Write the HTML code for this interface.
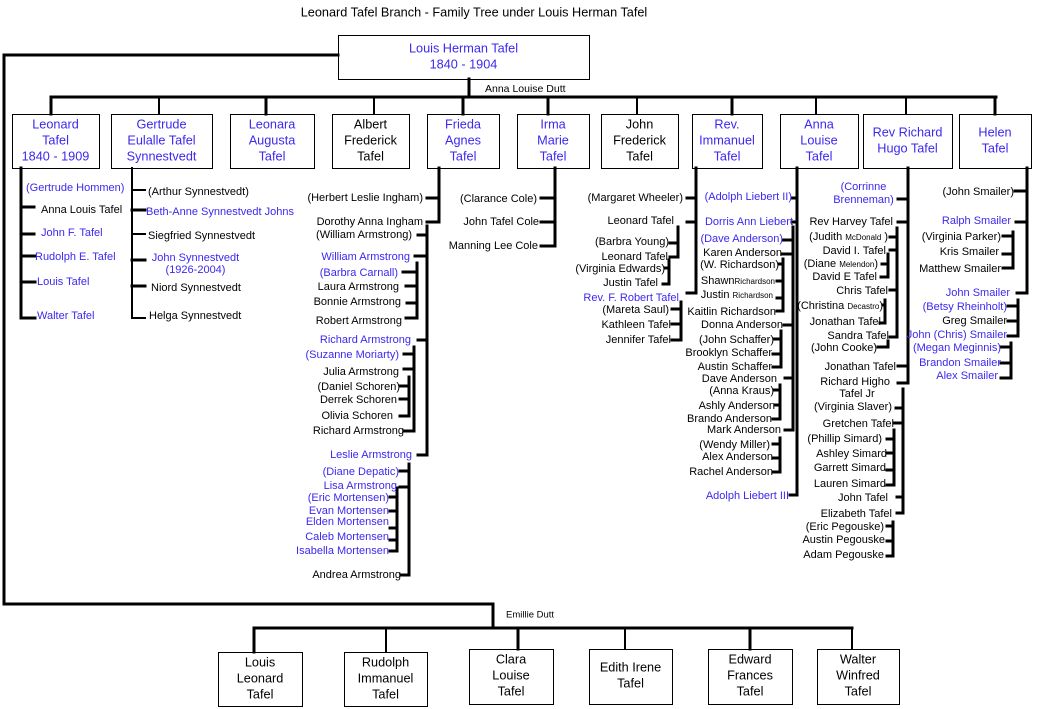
<!DOCTYPE html>
<html>
<head>
<meta charset="utf-8">
<style>
html,body{margin:0;padding:0;background:#fff;}
body{width:1037px;height:709px;overflow:hidden;}
svg{display:block;}
text{font-family:"Liberation Sans",Arial,sans-serif;font-size:11px;fill:#000;}
.e{text-anchor:end;}
.m{text-anchor:middle;}
.b{fill:#3c28f0;}
.bx{font-size:12.7px;text-anchor:middle;}
.sm{font-size:8px;}
</style>
</head>
<body>
<svg width="1037" height="709" viewBox="0 0 1037 709" xmlns="http://www.w3.org/2000/svg">
<!-- boxes -->
<g fill="#fff" stroke="#000" stroke-width="1" shape-rendering="crispEdges">
<rect x="338.5" y="35.5" width="251" height="44"/>
<rect x="12.5" y="114.5" width="87" height="54"/>
<rect x="111.5" y="114.5" width="101" height="54"/>
<rect x="230.5" y="114.5" width="84" height="54"/>
<rect x="332.5" y="114.5" width="77" height="54"/>
<rect x="427.5" y="114.5" width="72" height="54"/>
<rect x="517.5" y="114.5" width="72" height="54"/>
<rect x="601.5" y="114.5" width="77" height="54"/>
<rect x="692.5" y="114.5" width="70" height="54"/>
<rect x="780.5" y="114.5" width="78" height="54"/>
<rect x="863.5" y="114.5" width="89" height="54"/>
<rect x="959.5" y="114.5" width="72" height="54"/>
<rect x="218.5" y="652.5" width="84" height="54"/>
<rect x="344.5" y="652.5" width="83" height="54"/>
<rect x="469.5" y="649.5" width="84" height="55"/>
<rect x="589.5" y="649.5" width="83" height="55"/>
<rect x="708.5" y="649.5" width="84" height="55"/>
<rect x="817.5" y="649.5" width="82" height="55"/>
</g>
<!-- thick lines -->
<path fill="none" stroke="#000" stroke-width="3" stroke-linecap="square" stroke-linejoin="miter" d="
M338,55 H4 V604 H493 V628
M469,79 V97
M51,97 H996
M51,97V114 M266,97V114 M463,97V114 M548,97V114 M732,97V114 M995,97V114
M254,628 H852
M254,628V652 M518,628V649 M750,628V649
M21,168 V318 H35 M21,207H34 M21,234H34 M21,256H35 M21,282H35
M132,210H145 M132,260H145 M132,286H145
M439,168V222H427 M439,198H427
M427,226V455H418 M427,235H418 M427,256H415 M427,340H418
M417,263V318H406 M417,272H403 M417,286H406 M417,303H407
M414,347V431H404 M414,354H404 M414,369H404
M409,377V416H400 M409,386H400 M409,399H400
M409,464V575H401 M409,471H400 M409,487H400
M397,488V551H390 M397,497H390 M397,511H390 M397,528H390 M397,540H390
M555,168V246H541 M555,198H541 M555,222H541
M696,168V293H687 M696,198H687 M696,222H687
M678,227V257H670 M678,243H670
M669,260V284H663 M669,268H665
M681,302V340H672 M681,309H672 M681,324H672
M797,168V495H790 M797,198H792 M797,222H792
M793,227V430H785 M793,240H783 M793,254H782 M793,325H784 M793,378H785
M783,259V311H777 M783,264H779 M783,281H777 M783,298H777
M781,331V367H773 M781,339H774 M781,354H773
M780,385V419H773 M780,390H774 M780,405H775
M780,438V472H773 M780,444H773 M780,458H773
M908,168V383H898 M908,199H898 M908,222H898 M908,366H898
M897,228V337H890 M897,237H890 M897,250H890 M897,290H890
M888,254V277H881 M888,264H882
M885,300V323H880 M885,305H883
M888,341V347H878
M903,389V513H897 M903,408H896 M903,423H894 M903,497H897
M894,430V485H887 M894,439H887 M894,453H887 M894,470H887
M893,522V556H887 M893,526H887 M893,541H887
M1027,168V293H1017 M1027,191H1015 M1027,222H1016
M1013,232V268H1003 M1013,236H1003 M1013,254H1003
M1018,300V336H1008 M1018,306H1008 M1018,321H1008
M1011,343V378H1001 M1011,347H1001 M1011,363H1001
"/>
<!-- thin lines -->
<path fill="none" stroke="#000" stroke-width="2" stroke-linecap="square" d="
M159,97V114 M374,97V114 M637,97V114 M816,97V114 M906,97V114
M386,628V652 M625,628V649 M852,628V649
M132,168V318H145 M132,190H145 M132,234H145
"/>

<!-- title & spouse labels -->
<text class="m" x="474" y="16.5" style="font-size:12.7px">Leonard Tafel Branch - Family Tree under Louis Herman Tafel</text>
<text x="485" y="92" style="font-size:10.5px">Anna Louise Dutt</text>
<text x="506" y="617.5" style="font-size:9.5px">Emillie Dutt</text>

<!-- box texts -->
<text class="bx b" x="463.5" y="52.5">Louis Herman Tafel</text>
<text class="bx b" x="463.5" y="68.5">1840 - 1904</text>

<text class="bx b" x="55.5" y="128.5">Leonard</text>
<text class="bx b" x="55.5" y="144.5">Tafel</text>
<text class="bx b" x="55.5" y="160.5">1840 - 1909</text>

<text class="bx b" x="161.5" y="128.5">Gertrude</text>
<text class="bx b" x="161.5" y="144.5">Eulalle Tafel</text>
<text class="bx b" x="161.5" y="160.5">Synnestvedt</text>

<text class="bx b" x="272" y="128.5">Leonara</text>
<text class="bx b" x="272" y="144.5">Augusta</text>
<text class="bx b" x="272" y="160.5">Tafel</text>

<text class="bx" x="370.5" y="128.5">Albert</text>
<text class="bx" x="370.5" y="144.5">Frederick</text>
<text class="bx" x="370.5" y="160.5">Tafel</text>

<text class="bx b" x="463" y="128.5">Frieda</text>
<text class="bx b" x="463" y="144.5">Agnes</text>
<text class="bx b" x="463" y="160.5">Tafel</text>

<text class="bx b" x="553" y="128.5">Irma</text>
<text class="bx b" x="553" y="144.5">Marie</text>
<text class="bx b" x="553" y="160.5">Tafel</text>

<text class="bx" x="639.5" y="128.5">John</text>
<text class="bx" x="639.5" y="144.5">Frederick</text>
<text class="bx" x="639.5" y="160.5">Tafel</text>

<text class="bx b" x="727" y="128.5">Rev.</text>
<text class="bx b" x="727" y="144.5">Immanuel</text>
<text class="bx b" x="727" y="160.5">Tafel</text>

<text class="bx b" x="819" y="128.5">Anna</text>
<text class="bx b" x="819" y="144.5">Louise</text>
<text class="bx b" x="819" y="160.5">Tafel</text>

<text class="bx b" x="907.5" y="136.5">Rev Richard</text>
<text class="bx b" x="907.5" y="152.5">Hugo Tafel</text>

<text class="bx b" x="995" y="136.5">Helen</text>
<text class="bx b" x="995" y="152.5">Tafel</text>

<text class="bx" x="260" y="666.5">Louis</text>
<text class="bx" x="260" y="682.5">Leonard</text>
<text class="bx" x="260" y="698.5">Tafel</text>

<text class="bx" x="385.5" y="666.5">Rudolph</text>
<text class="bx" x="385.5" y="682.5">Immanuel</text>
<text class="bx" x="385.5" y="698.5">Tafel</text>

<text class="bx" x="511" y="663.5">Clara</text>
<text class="bx" x="511" y="679.5">Louise</text>
<text class="bx" x="511" y="695.5">Tafel</text>

<text class="bx" x="630.5" y="671.5">Edith Irene</text>
<text class="bx" x="630.5" y="687.5">Tafel</text>

<text class="bx" x="750" y="663.5">Edward</text>
<text class="bx" x="750" y="679.5">Frances</text>
<text class="bx" x="750" y="695.5">Tafel</text>

<text class="bx" x="858" y="663.5">Walter</text>
<text class="bx" x="858" y="679.5">Winfred</text>
<text class="bx" x="858" y="695.5">Tafel</text>

<!-- Leonard column -->
<text class="b" x="26" y="191">(Gertrude Hommen)</text>
<text x="41" y="213">Anna Louis Tafel</text>
<text class="b" x="41" y="236">John F. Tafel</text>
<text class="b" x="35" y="260">Rudolph E. Tafel</text>
<text class="b" x="37" y="285">Louis Tafel</text>
<text class="b" x="37" y="319">Walter Tafel</text>

<!-- Gertrude column -->
<text x="148" y="195">(Arthur Synnestvedt)</text>
<text class="b" x="146" y="215">Beth-Anne Synnestvedt Johns</text>
<text x="148" y="239">Siegfried Synnestvedt</text>
<text class="b m" x="195.5" y="261">John Synnestvedt</text>
<text class="b m" x="195.5" y="273">(1926-2004)</text>
<text x="151" y="291">Niord Synnestvedt</text>
<text x="149" y="319">Helga Synnestvedt</text>

<!-- Frieda column -->
<text class="e" x="423" y="201">(Herbert Leslie Ingham)</text>
<text class="e" x="423" y="225">Dorothy Anna Ingham</text>
<text class="e" x="412" y="238">(William Armstrong)</text>
<text class="e b" x="410" y="260">William Armstrong</text>
<text class="e b" x="398" y="276">(Barbra Carnall)</text>
<text class="e" x="399" y="290">Laura Armstrong</text>
<text class="e" x="401" y="305">Bonnie Armstrong</text>
<text class="e" x="402" y="324">Robert Armstrong</text>
<text class="e b" x="411" y="343">Richard Armstrong</text>
<text class="e b" x="399" y="358">(Suzanne Moriarty)</text>
<text class="e" x="399" y="375">Julia Armstrong</text>
<text class="e" x="400" y="390">(Daniel Schoren)</text>
<text class="e" x="397" y="403">Derrek Schoren</text>
<text class="e" x="393" y="419">Olivia Schoren</text>
<text class="e" x="404" y="434">Richard Armstrong</text>
<text class="e b" x="412" y="458">Leslie Armstrong</text>
<text class="e b" x="399" y="475">(Diane Depatic)</text>
<text class="e b" x="397" y="489">Lisa Armstrong</text>
<text class="e b" x="389" y="501">(Eric Mortensen)</text>
<text class="e b" x="389" y="514">Evan Mortensen</text>
<text class="e b" x="389" y="525">Elden Mortensen</text>
<text class="e b" x="389" y="540">Caleb Mortensen</text>
<text class="e b" x="389" y="554">Isabella Mortensen</text>
<text class="e" x="401" y="578">Andrea Armstrong</text>

<!-- Irma column -->
<text class="e" x="537" y="202">(Clarance Cole)</text>
<text class="e" x="539" y="225">John Tafel Cole</text>
<text class="e" x="538" y="249">Manning Lee Cole</text>

<!-- Rev Immanuel column -->
<text class="e" x="683" y="201">(Margaret Wheeler)</text>
<text class="e" x="674" y="224">Leonard Tafel</text>
<text class="e" x="669" y="245">(Barbra Young)</text>
<text class="e" x="668" y="260">Leonard Tafel</text>
<text class="e" x="665" y="272">(Virginia Edwards)</text>
<text class="e" x="658" y="286">Justin Tafel</text>
<text class="e b" x="679" y="301">Rev. F. Robert Tafel</text>
<text class="e" x="669" y="313">(Mareta Saul)</text>
<text class="e" x="671" y="328">Kathleen Tafel</text>
<text class="e" x="671" y="343">Jennifer Tafel</text>

<!-- Anna Louise column -->
<text class="e b" x="792" y="200">(Adolph Liebert II)</text>
<text class="e b" x="793" y="225">Dorris Ann Liebert</text>
<text class="e b" x="783" y="242">(Dave Anderson)</text>
<text class="e" x="782" y="256">Karen Anderson</text>
<text class="e" x="779" y="268">(W. Richardson)</text>
<text class="e" x="775" y="284">Shawn<tspan class="sm">Richardson</tspan></text>
<text class="e" x="773" y="298">Justin <tspan class="sm">Richardson</tspan></text>
<text class="e" x="776" y="315">Kaitlin Richardson</text>
<text class="e" x="783" y="328">Donna Anderson</text>
<text class="e" x="774" y="343">(John Schaffer)</text>
<text class="e" x="772" y="356">Brooklyn Schaffer</text>
<text class="e" x="772" y="370">Austin Schaffer</text>
<text class="e" x="777" y="382">Dave Anderson</text>
<text class="e" x="774" y="394">(Anna Kraus)</text>
<text class="e" x="775" y="409">Ashly Anderson</text>
<text class="e" x="772" y="422">Brando Anderson</text>
<text class="e" x="781" y="433">Mark Anderson</text>
<text class="e" x="770" y="448">(Wendy Miller)</text>
<text class="e" x="773" y="460">Alex Anderson</text>
<text class="e" x="773" y="475">Rachel Anderson</text>
<text class="e b" x="789" y="499">Adolph Liebert III</text>

<!-- Rev Richard column -->
<text class="m b" x="863.5" y="190">(Corrinne</text>
<text class="m b" x="863.5" y="203">Brenneman)</text>
<text class="e" x="893" y="225">Rev Harvey Tafel</text>
<text class="e" x="888" y="240">(Judith <tspan class="sm">McDonald</tspan> )</text>
<text class="e" x="886" y="254">David I. Tafel</text>
<text class="e" x="878" y="267">(Diane <tspan class="sm">Melendon</tspan>)</text>
<text class="e" x="877" y="280">David E Tafel</text>
<text class="e" x="888" y="294">Chris Tafel</text>
<text class="e" x="883" y="309">(Christina <tspan class="sm">Decastro</tspan>)</text>
<text class="e" x="881" y="325">Jonathan Tafel</text>
<text class="e" x="889" y="339">Sandra Tafel</text>
<text class="e" x="877" y="351">(John Cooke)</text>
<text class="e" x="896" y="370">Jonathan Tafel</text>
<text class="e" x="890" y="385">Richard Higho</text>
<text class="m" x="857" y="397">Tafel Jr</text>
<text class="e" x="892" y="410">(Virginia Slaver)</text>
<text class="e" x="894" y="427">Gretchen Tafel</text>
<text class="e" x="882" y="442">(Phillip Simard)</text>
<text class="e" x="887" y="457">Ashley Simard</text>
<text class="e" x="886" y="471">Garrett Simard</text>
<text class="e" x="886" y="487">Lauren Simard</text>
<text class="e" x="888" y="501">John Tafel</text>
<text class="e" x="892" y="517">Elizabeth Tafel</text>
<text class="e" x="884" y="530">(Eric Pegouske)</text>
<text class="e" x="885" y="543">Austin Pegouske</text>
<text class="e" x="884" y="558">Adam Pegouske</text>

<!-- Helen column -->
<text class="e" x="1014" y="195">(John Smailer)</text>
<text class="e b" x="1011" y="224">Ralph Smailer</text>
<text class="e" x="1001" y="240">(Virginia Parker)</text>
<text class="e" x="999" y="255">Kris Smailer</text>
<text class="e" x="1001" y="272">Matthew Smailer</text>
<text class="e b" x="1010" y="296">John Smailer</text>
<text class="e b" x="1007" y="310">(Betsy Rheinholt)</text>
<text class="e" x="1007" y="324">Greg Smailer</text>
<text class="e b" x="1007" y="338">John (Chris) Smailer</text>
<text class="e b" x="1001" y="351">(Megan Meginnis)</text>
<text class="e b" x="1001" y="366">Brandon Smailer</text>
<text class="e b" x="998" y="379">Alex Smailer</text>
</svg>
</body>
</html>
